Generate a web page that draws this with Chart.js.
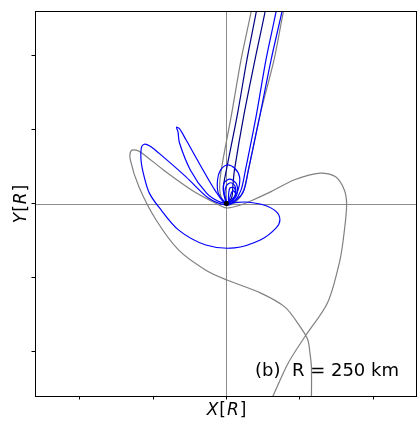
<!DOCTYPE html>
<html>
<head>
<meta charset="utf-8">
<script src="https://cdn.jsdelivr.net/npm/chart.js@4.4.0/dist/chart.umd.min.js"></script>
<style>
  html, body { margin: 0; padding: 0; overflow: hidden; background: #fff; }
</style>
</head>
<body>
<canvas id="orbits" width="421" height="424"></canvas>
<script>
// axis ticks (no labels shown in the reference)
var xTicks = [-2, -1, 0, 1, 2];
var yTicks = [-2, -1, 0, 1, 2];

// gray: left lobe -> origin -> right lobe, both ends leave through the bottom
var grayMain = [
  [1.16, -2.72], [1.16, -2.21], [1.14, -2.02], [1.11, -1.84], [1.01, -1.67],
  [0.80, -1.40], [0.47, -1.21], [0.00, -1.03], [-0.28, -0.90], [-0.65, -0.63],
  [-0.96, -0.22], [-1.19, 0.22], [-1.31, 0.59], [-1.30, 0.71], [-1.23, 0.72],
  [-1.15, 0.68], [-0.84, 0.44], [-0.47, 0.18], [-0.16, 0.01], [0.00, -0.06],
  [0.16, -0.03], [0.30, 0.02], [0.61, 0.16], [0.93, 0.32], [1.28, 0.41],
  [1.49, 0.36], [1.61, 0.18], [1.64, -0.02], [1.61, -0.36], [1.55, -0.76],
  [1.38, -1.34], [1.07, -1.80], [0.84, -2.16], [0.64, -2.59], [0.57, -2.72]
];

// gray: narrow U that comes down the bundle and goes back up
var grayBundle = [
  [0.39, 2.89], [0.34, 2.60], [0.20, 1.94], [0.07, 1.20], [-0.07, 0.45],
  [-0.09, 0.18], [-0.03, 0.01], [0.08, -0.01], [0.22, 0.14], [0.30, 0.45],
  [0.46, 1.20], [0.65, 1.94], [0.78, 2.60], [0.85, 2.89]
];

// navy: down and back up with a small turn at the origin
var navyLoop = [
  [0.46, 2.89], [0.41, 2.60], [0.28, 1.94], [0.15, 1.20], [0.00, 0.45],
  [-0.04, 0.21], [0.00, 0.02], [0.07, 0.07], [0.09, 0.25], [0.11, 0.45],
  [0.24, 1.20], [0.39, 1.94], [0.53, 2.60], [0.58, 2.89]
];

// blue: wide lobe and the big loop under the origin
var blueWide = [
  [0.73, 2.89], [0.68, 2.60], [0.54, 1.94], [0.41, 1.20], [0.26, 0.45],
  [0.20, 0.18], [0.11, 0.03], [0.00, -0.02], [-0.24, 0.07], [-0.55, 0.36],
  [-0.92, 0.68], [-1.05, 0.78], [-1.12, 0.80], [-1.16, 0.75], [-1.16, 0.55],
  [-1.11, 0.32], [-1.05, 0.14], [-0.92, -0.05], [-0.65, -0.36], [-0.28, -0.56],
  [0.11, -0.60], [0.47, -0.49], [0.68, -0.33], [0.73, -0.22], [0.68, -0.11],
  [0.51, -0.02], [0.26, 0.02], [0.09, 0.01], [0.00, 0.01], [-0.11, 0.14],
  [-0.12, 0.32], [-0.08, 0.45], [0.01, 0.52], [0.11, 0.48], [0.18, 0.36],
  [0.16, 0.18], [0.08, 0.05], [0.00, 0.01]
];

// blue: narrow lobe and the small loops near the origin
var blueNarrow = [
  [0.82, 2.89], [0.76, 2.60], [0.61, 1.94], [0.46, 1.20], [0.30, 0.45],
  [0.24, 0.18], [0.14, 0.05], [0.00, -0.01], [-0.15, 0.17], [-0.34, 0.49],
  [-0.55, 0.86], [-0.64, 1.01], [-0.68, 1.03], [-0.66, 0.97], [-0.64, 0.82],
  [-0.49, 0.45], [-0.27, 0.14], [-0.11, 0.03], [0.00, 0.01], [-0.04, 0.16],
  [-0.03, 0.28], [0.05, 0.33], [0.14, 0.26], [0.14, 0.11], [0.04, 0.01],
  [0.03, 0.11], [0.05, 0.21], [0.11, 0.21], [0.12, 0.11], [0.05, 0.02]
];

// blue: the innermost little turns around the origin
var blueInner = [
  [0.00, 0.01], [-0.02, 0.12], [0.00, 0.24], [0.06, 0.28], [0.12, 0.23],
  [0.12, 0.10], [0.04, 0.01], [0.06, 0.12], [0.09, 0.17], [0.13, 0.13], [0.08, 0.02]
];

var centre = [[0, 0]];

var panelLabel = "(b)  R = 250 km";

function pts(list) {
  return list.map(function(p) { return { x: p[0], y: p[1] }; });
}

function curve(list, colour, order) {
  return {
    data: pts(list),
    showLine: true,
    borderColor: colour,
    borderWidth: 1.2,
    pointRadius: 0,
    tension: 0.3,
    fill: false,
    order: order
  };
}

function drawMath(ctx, parts, size) {
  var total = 0;
  parts.forEach(function(p) {
    ctx.font = (p[1] ? "italic " : "") + size + "px 'DejaVu Sans'";
    total += ctx.measureText(p[0]).width + 1;
  });
  var x = -total / 2;
  parts.forEach(function(p) {
    ctx.font = (p[1] ? "italic " : "") + size + "px 'DejaVu Sans'";
    ctx.fillText(p[0], x, 0);
    x += ctx.measureText(p[0]).width + 1;
  });
}

var framePlugin = {
  id: 'frame',
  beforeDatasetsDraw: function(chart) {
    var ctx = chart.ctx, a = chart.chartArea;
    var x0 = Math.round(chart.scales.x.getPixelForValue(0)) + 0.5;
    var y0 = Math.round(chart.scales.y.getPixelForValue(0)) + 0.5;
    ctx.save();
    ctx.strokeStyle = '#8c8c8c';
    ctx.lineWidth = 1;
    ctx.beginPath();
    ctx.moveTo(x0, a.top); ctx.lineTo(x0, a.bottom);
    ctx.moveTo(a.left, y0); ctx.lineTo(a.right, y0);
    ctx.stroke();
    ctx.restore();
  },
  afterDatasetsDraw: function(chart) {
    var ctx = chart.ctx, a = chart.chartArea;
    ctx.save();
    ctx.strokeStyle = '#000';
    ctx.lineWidth = 1;
    ctx.strokeRect(a.left + 0.5, a.top + 0.5, a.right - a.left - 1, a.bottom - a.top);
    ctx.fillStyle = '#000';
    ctx.font = "18px 'DejaVu Sans'";
    ctx.textAlign = 'left';
    ctx.textBaseline = 'alphabetic';
    ctx.fillText(panelLabel, 255, 376);

    ctx.translate(227, 415);
    drawMath(ctx, [['X', true], ['[', false], ['R', true], [']', false]], 17);
    ctx.setTransform(1, 0, 0, 1, 0, 0);
    ctx.translate(26, 203.5);
    ctx.rotate(-Math.PI / 2);
    drawMath(ctx, [['Y', true], ['[', false], ['R', true], [']', false]], 17);
    ctx.restore();
  }
};

var ctx = document.getElementById('orbits').getContext('2d');
new Chart(ctx, {
  type: 'scatter',
  data: {
    datasets: [
      {
        data: pts(centre),
        pointRadius: 2.5,
        pointBackgroundColor: '#000',
        pointBorderWidth: 0,
        order: 0
      },
      curve(blueInner, '#0000ff', 1),
      curve(blueNarrow, '#0000ff', 1),
      curve(blueWide, '#0000ff', 1),
      curve(navyLoop, '#000080', 2),
      curve(grayBundle, '#808080', 3),
      curve(grayMain, '#808080', 3)
    ]
  },
  options: {
    responsive: false,
    animation: false,
    layout: { padding: { top: 11, left: 0, right: 0, bottom: 0 } },
    plugins: {
      legend: { display: false },
      tooltip: { enabled: false }
    },
    scales: {
      x: {
        min: -2.61,
        max: 2.6,
        afterBuildTicks: function(s) { s.ticks = xTicks.map(function(v) { return { value: v }; }); },
        afterFit: function(s) { s.height = 28; },
        ticks: { display: false },
        border: { display: false },
        grid: { drawOnChartArea: false, drawTicks: true, tickLength: 3.5, color: '#000', tickWidth: 1 }
      },
      y: {
        min: -2.6,
        max: 2.6,
        afterBuildTicks: function(s) { s.ticks = yTicks.map(function(v) { return { value: v }; }); },
        afterFit: function(s) { s.width = 35; },
        ticks: { display: false },
        border: { display: false },
        grid: { drawOnChartArea: false, drawTicks: true, tickLength: 3.5, color: '#000', tickWidth: 1 }
      }
    }
  },
  plugins: [framePlugin]
});
</script>
</body>
</html>
